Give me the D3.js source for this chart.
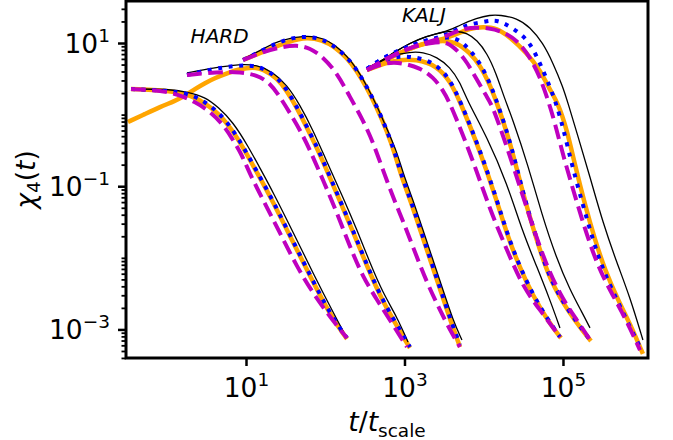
<!DOCTYPE html>
<html><head><meta charset="utf-8">
<script src="https://cdn.jsdelivr.net/npm/d3@7"></script>
<style>html,body{margin:0;padding:0;background:#fff;} svg{display:block;}</style>
</head><body>
<svg id="chart" width="673" height="440"></svg>
<script>
// ---- data: [t/t_scale, chi4] ----
const hard1Black = [[0.354,2.28],[1.037,2.28],[1.854,2.07],[3.04,1.76],[4.44,1.28],[6.85,0.789],[10.6,0.364],[15.0,0.179],[21.9,0.0830],[39.2,0.0229],[70.0,0.00614],[125,0.00175],[173,0.000891]];
const hard1Orange = [[0.354,2.28],[1.27,2.14],[2.08,1.82],[3.04,1.45],[4.44,1.05],[6.47,0.650],[9.44,0.331],[13.4,0.163],[20.1,0.0730],[35.9,0.0202],[64.2,0.00557],[115,0.00159],[188,0.000735]];
const hard1Blue = [[0.354,2.28],[1.27,2.14],[2.08,1.88],[3.04,1.50],[4.44,1.09],[6.47,0.671],[9.44,0.342],[13.4,0.168],[20.1,0.0753],[35.9,0.0208],[64.2,0.00575],[115,0.00164],[188,0.000759]];
const hard1Magenta = [[0.354,2.28],[0.652,2.21],[1.037,2.07],[1.56,1.82],[2.27,1.50],[3.32,1.16],[4.98,0.764],[6.65,0.471],[8.91,0.273],[10.9,0.158],[16.4,0.0641],[26.9,0.0222],[44.0,0.00745],[70.0,0.00322],[115,0.00149],[188,0.000759]];

const hard2Black = [[1.80,3.81],[3.84,4.48],[8.40,5.09],[13.8,4.93],[21.9,3.94],[32.9,2.59],[48.0,1.36],[70.0,0.610],[105,0.218],[167,0.0706],[252,0.0244],[367,0.00845],[535,0.00322],[804,0.00149],[1107,0.000667]];
const hard2Orange = [[0.324,0.789],[0.532,1.02],[0.822,1.28],[1.27,1.55],[1.70,1.82],[2.27,2.28],[3.04,2.76],[4.06,3.24],[5.93,3.81],[8.40,4.34],[12.2,4.62],[16.4,4.34],[24.6,3.24],[32.9,2.14],[44.0,1.24],[58.9,0.650],[78.7,0.342],[99.3,0.191],[153,0.0621],[231,0.0215],[336,0.00769],[491,0.00293],[736,0.00131],[1172,0.000550]];
const hard2Blue = [[1.80,3.57],[3.84,4.34],[6.85,4.77],[11.2,4.93],[16.4,4.48],[24.6,3.35],[32.9,2.21],[44.0,1.28],[58.9,0.671],[78.7,0.353],[99.3,0.198],[153,0.0641],[231,0.0222],[336,0.00794],[491,0.00303],[736,0.00135],[1172,0.000568]];
const hard2Magenta = [[1.80,3.57],[3.22,3.81],[5.13,3.94],[8.40,3.94],[13.8,3.57],[20.1,2.76],[26.9,1.76],[35.9,1.05],[48.0,0.610],[64.2,0.321],[93.7,0.122],[141,0.0423],[205,0.0142],[299,0.00540],[450,0.00258],[656,0.00135],[1074,0.000568]];

const hard3Black = [[9.17,5.98],[16.4,8.24],[26.9,11.0],[58.9,12.9],[93.7,11.7],[133,9.38],[188,6.58],[252,4.34],[336,2.51],[450,1.32],[601,0.630],[804,0.301],[957,0.153],[1279,0.0641],[1711,0.0244],[2291,0.00931],[3062,0.00355],[4093,0.00135],[5309,0.000711]];
const hard3Orange = [[9.17,5.79],[18.4,7.98],[35.9,10.7],[58.9,12.1],[91.0,11.0],[133,8.79],[188,6.18],[252,4.06],[336,2.35],[450,1.24],[601,0.590],[759,0.282],[903,0.143],[1208,0.0601],[1614,0.0229],[2159,0.00873],[2891,0.00333],[3864,0.00127],[5012,0.000568]];
const hard3Blue = [[9.17,5.79],[16.4,7.98],[29.3,11.0],[52.4,12.5],[85.9,11.7],[125,9.38],[188,6.37],[252,4.20],[336,2.43],[450,1.28],[601,0.610],[759,0.291],[903,0.148],[1208,0.0621],[1614,0.0237],[2159,0.00902],[2891,0.00344],[3864,0.00131],[5012,0.000605]];
const hard3Magenta = [[9.17,5.79],[15.0,7.24],[26.9,8.79],[44.0,9.38],[64.2,8.51],[93.7,6.37],[141,3.81],[205,1.76],[299,0.841],[400,0.414],[535,0.168],[716,0.0706],[957,0.0327],[1279,0.0142],[1923,0.00445],[2805,0.00187],[3750,0.000982],[5012,0.000568]];

const kalj1Black = [[336,4.48],[491,5.43],[716,6.79],[1172,7.48],[1711,7.48],[2570,6.37],[3750,4.62],[5012,2.85],[6152,1.60],[10990,0.486],[19630,0.111],[31260,0.0222],[46990,0.00745],[68550,0.00258],[91620,0.00105]];
const kalj1Orange = [[336,4.20],[716,5.79],[1439,5.98],[2570,4.77],[3750,2.94],[5012,1.55],[8974,0.310],[14690,0.0621],[21430,0.0156],[35160,0.00431],[51290,0.00199],[74820,0.00105],[94410,0.000759]];
const kalj1Blue = [[336,4.34],[535,5.79],[877,6.58],[1279,6.37],[1923,5.79],[2805,4.48],[3750,3.04],[5012,1.60],[8974,0.321],[14690,0.0641],[21430,0.0161],[35160,0.00445],[51290,0.00206],[74820,0.00108],[91620,0.000783]];
const kalj1Magenta = [[336,4.20],[601,5.43],[957,5.26],[1570,4.48],[2291,3.35],[3062,2.21],[3864,1.36],[7311,0.232],[11990,0.0466],[19630,0.0129],[31260,0.00391],[51290,0.00187],[91620,0.000783]];

const kalj2Black = [[336,4.48],[491,5.43],[716,7.24],[1172,10.0],[1923,12.5],[3062,14.3],[4592,14.7],[6152,13.8],[8222,11.0],[10990,7.24],[14290,3.81],[18030,1.76],[23390,0.841],[36140,0.198],[54330,0.0396],[81660,0.0103],[122500,0.00355],[178600,0.00164],[219300,0.00105]];
const kalj2Orange = [[336,4.20],[716,6.58],[1439,9.38],[2805,11.0],[4592,10.3],[6699,7.24],[8974,4.93],[11990,2.59],[14690,1.45],[21430,0.428],[31260,0.0778],[46990,0.0172],[68550,0.00474],[122500,0.00164],[178600,0.000951],[225400,0.000689]];
const kalj2Blue = [[336,4.34],[535,6.18],[877,7.98],[1279,9.38],[1923,11.0],[2805,11.7],[3750,12.1],[5012,11.0],[6699,7.98],[8974,5.26],[11990,2.76],[14690,1.50],[21430,0.442],[31260,0.0804],[46990,0.0177],[68550,0.00490],[122500,0.00169],[178600,0.000982],[219300,0.000711]];
const kalj2Magenta = [[336,4.20],[716,6.79],[1439,9.38],[2570,10.3],[3436,10.3],[4592,7.98],[6152,5.43],[8222,3.04],[10990,1.76],[13090,1.28],[19630,0.353],[28640,0.0975],[41780,0.0269],[62810,0.00745],[100000,0.00258],[150300,0.00135],[219300,0.000711]];

const kalj3Black = [[336,4.48],[491,5.43],[716,7.24],[1172,10.0],[1923,12.5],[2805,13.8],[3750,15.2],[5012,17.8],[8222,22.3],[11990,24.6],[16030,24.6],[26300,22.3],[38370,16.7],[55980,10.0],[74820,5.26],[100000,2.43],[115600,1.45],[150300,0.553],[219300,0.135],[319900,0.0306],[479800,0.00845],[699800,0.00284],[1021000,0.000711]];
const kalj3Orange = [[336,4.20],[716,6.58],[1439,9.38],[2805,11.0],[4335,12.9],[6699,16.2],[9795,16.7],[14690,16.2],[21430,12.1],[35160,7.24],[51290,4.20],[68550,2.21],[86500,1.45],[112500,0.610],[141600,0.198],[189700,0.0547],[253500,0.0177],[338800,0.00676],[494300,0.00258],[743000,0.00105],[1021000,0.000454]];
const kalj3Blue = [[336,4.34],[535,6.18],[877,7.98],[1279,9.38],[1923,11.0],[2805,12.1],[3750,13.8],[5012,16.2],[6699,18.4],[9795,19.6],[13090,20.9],[17500,19.6],[28640,13.8],[38370,10.0],[51290,5.26],[68550,2.43],[81660,1.45],[100000,0.671],[129700,0.198],[178600,0.0547],[238800,0.0177],[319900,0.00676],[479800,0.00258],[699800,0.00108],[937600,0.000568]];
const kalj3Magenta = [[336,4.20],[716,6.79],[1439,9.38],[2570,11.0],[4335,14.3],[6699,16.7],[11990,16.2],[17500,14.3],[26300,11.0],[38370,6.37],[51290,3.35],[64710,1.60],[79250,0.764],[100000,0.273],[150300,0.0582],[219300,0.0151],[319900,0.00522],[571500,0.00169],[937600,0.000515]];

const orangeSeries = [hard1Orange, hard2Orange, hard3Orange, kalj1Orange, kalj2Orange, kalj3Orange];
const blackSeries = [hard1Black, hard2Black, hard3Black, kalj1Black, kalj2Black, kalj3Black];
const blueSeries = [hard1Blue, hard2Blue, hard3Blue, kalj1Blue, kalj2Blue, kalj3Blue];
const magentaSeries = [hard1Magenta, hard2Magenta, hard3Magenta, kalj1Magenta, kalj2Magenta, kalj3Magenta];

const xTickValues = [1e1, 1e3, 1e5];
const xTickExponents = ["1", "3", "5"];
const yTickValues = [1e-3, 1e-1, 1e1];
const yTickExponents = ["\u22123", "\u22121", "1"];
const xDomain = [0.306, 1.183e6];
const yDomain = [3.99e-4, 38.6];
const labelHard = {text: "HARD", t: 2, chi: 10};
const labelKalj = {text: "KALJ", t: 930, chi: 19.5};

// ---- drawing ----
const svg = d3.select("#chart");
const L = 126, R = 648, T = 1, B = 358;
const FONT = "DejaVu Sans";
const x = d3.scaleLog().domain(xDomain).range([L, R]);
const y = d3.scaleLog().domain(yDomain).range([B, T]);

svg.append("defs").append("clipPath").attr("id", "clip")
  .append("rect").attr("x", L).attr("y", T).attr("width", R - L).attr("height", B - T);

const line = d3.line().x(d => x(d[0])).y(d => y(d[1])).curve(d3.curveBasis);
const plot = svg.append("g").attr("clip-path", "url(#clip)");

function drawSet(series, color, width, dash) {
  plot.append("g").selectAll("path").data(series).join("path")
    .attr("d", line).attr("fill", "none").attr("stroke", color)
    .attr("stroke-width", width).attr("stroke-dasharray", dash)
    .attr("stroke-linecap", "butt").attr("stroke-linejoin", "round");
}
drawSet(orangeSeries, "#FFA500", 4.5, null);
drawSet(blackSeries, "#000000", 1.3, null);
drawSet(blueSeries, "#0000FF", 4, "4,6.6");
drawSet(magentaSeries, "#BF00BF", 4, "14.8,6.4");

// annotations
[labelHard, labelKalj].forEach(a => {
  svg.append("text").attr("x", x(a.t)).attr("y", y(a.chi))
    .attr("font-family", FONT).attr("font-style", "italic").attr("font-size", 20)
    .text(a.text);
});

// x axis
const xAxis = svg.append("g").attr("transform", `translate(0,${B})`)
  .call(d3.axisBottom(x).tickValues(xTickValues).tickSize(8).tickPadding(10).tickFormat(""));
xAxis.select(".domain").remove();
xAxis.selectAll(".tick line").attr("stroke-width", 2.5);
xAxis.selectAll(".tick text").each(function(d, i) {
  const t = d3.select(this).attr("font-family", FONT).attr("font-size", 26.5)
    .attr("fill", "#000").attr("dy", null).attr("y", 39).attr("text-anchor", "middle");
  t.append("tspan").text("10");
  t.append("tspan").attr("font-size", 18.5).attr("dy", -11).text(xTickExponents[i]);
});

// y axis minor ticks
const yMinor = [];
for (let e = -4; e <= 1; e++) for (let k = 1; k <= 9; k++) {
  const v = k * Math.pow(10, e);
  if (v >= yDomain[0] && v <= yDomain[1] && !yTickValues.some(m => Math.abs(m - v) / v < 1e-9)) yMinor.push(v);
}
const yMinorAxis = svg.append("g").attr("transform", `translate(${L},0)`)
  .call(d3.axisLeft(y).tickValues(yMinor).tickSize(4.5).tickFormat(""));
yMinorAxis.select(".domain").remove();
yMinorAxis.selectAll(".tick line").attr("stroke-width", 1.8);

const yAxis = svg.append("g").attr("transform", `translate(${L},0)`)
  .call(d3.axisLeft(y).tickValues(yTickValues).tickSize(8).tickFormat(""));
yAxis.select(".domain").remove();
yAxis.selectAll(".tick line").attr("stroke-width", 2.5);
yAxis.selectAll(".tick text").each(function(d, i) {
  const t = d3.select(this).attr("font-family", FONT).attr("font-size", 26.5)
    .attr("fill", "#000").attr("dy", null).attr("x", -16).attr("y", 9.5).attr("text-anchor", "end");
  t.append("tspan").text("10");
  t.append("tspan").attr("font-size", 18.5).attr("dy", -11).text(yTickExponents[i]);
});

// frame
svg.append("rect").attr("x", L).attr("y", T).attr("width", R - L).attr("height", B - T)
  .attr("fill", "none").attr("stroke", "#000").attr("stroke-width", 3);

// axis labels
const xl = svg.append("text").attr("x", (L + R) / 2).attr("y", 431).attr("text-anchor", "middle")
  .attr("font-family", FONT).attr("font-size", 26.5);
xl.append("tspan").attr("font-style", "italic").text("t");
xl.append("tspan").text("/");
xl.append("tspan").attr("font-style", "italic").text("t");
xl.append("tspan").attr("font-size", 18.5).attr("dy", 6).text("scale");

const yl = svg.append("text").attr("transform", `translate(35,${(T + B) / 2}) rotate(-90)`)
  .attr("text-anchor", "middle").attr("font-family", FONT).attr("font-size", 26.5);
yl.append("tspan").attr("font-style", "italic").text("\u03C7");
yl.append("tspan").attr("font-size", 18.5).attr("dy", 5).text("4");
yl.append("tspan").attr("dy", -5).text("(");
yl.append("tspan").attr("font-style", "italic").text("t");
yl.append("tspan").text(")");
</script>
</body></html>
